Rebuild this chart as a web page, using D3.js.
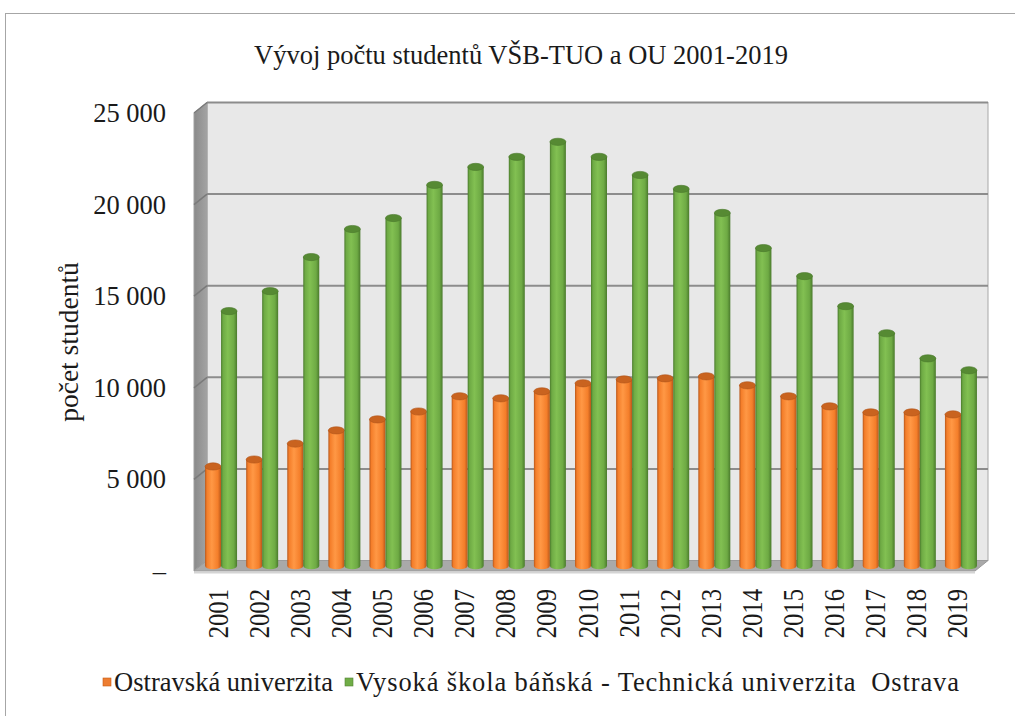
<!DOCTYPE html>
<html>
<head>
<meta charset="utf-8">
<script src="https://cdn.jsdelivr.net/npm/d3@7"></script>
<style>
  body { margin: 0; background: #fff; }
  svg { display: block; font-family: "Liberation Serif", "Times New Roman", serif; }
</style>
</head>
<body>
<svg id="chart" width="1015" height="716"></svg>
<script>
// data
var years = ['2001','2002','2003','2004','2005','2006','2007','2008','2009','2010',
             '2011','2012','2013','2014','2015','2016','2017','2018','2019']
var ou = [5420, 5800, 6670, 7390, 7990, 8420, 9250, 9140, 9520, 9960,
          10170, 10230, 10340, 9850, 9250, 8700, 8370, 8370, 8260]
var vsb = [13900, 14990, 16850, 18380, 18980, 20790, 21770, 22320, 23140, 22320,
           21330, 20570, 19260, 17340, 15810, 14170, 12690, 11320, 10670]
var yTicks = [0, 5000, 10000, 15000, 20000, 25000]
var seriesNames = ['Ostravská univerzita', 'Vysoká škola báňská - Technická univerzita  Ostrava']

var svg = d3.select('#chart')
var defs = svg.append('defs')

// 3d depth offset (front plane -> back wall)
var dx = 13, dy = -10.5

var x = d3.scaleBand().domain(years).range([194, 975])
var y = d3.scaleLinear().domain([0, 25000]).range([571, 113])

var fmt = function (v) { return v === 0 ? '–' : d3.format(',')(v).replace(',', ' ') }

// outer frame
svg.append('rect').attr('x', 5.5).attr('y', 13.5).attr('width', 1030).attr('height', 730)
  .attr('fill', '#fff').attr('stroke', '#a6a6a6')

// title
svg.append('text').attr('x', 521).attr('y', 64).attr('text-anchor', 'middle')
  .attr('font-size', 26.5).attr('fill', '#1a1a1a')
  .text('Vývoj počtu studentů VŠB-TUO a OU 2001-2019')

// gradients
function cylGrad (id, edge, mid, light) {
  var g = defs.append('linearGradient').attr('id', id).attr('x1', 0).attr('x2', 1).attr('y1', 0).attr('y2', 0)
  g.append('stop').attr('offset', '0%').attr('stop-color', edge)
  g.append('stop').attr('offset', '12%').attr('stop-color', mid)
  g.append('stop').attr('offset', '42%').attr('stop-color', light)
  g.append('stop').attr('offset', '80%').attr('stop-color', mid)
  g.append('stop').attr('offset', '100%').attr('stop-color', edge)
}
cylGrad('gOrange', '#b8571a', '#f47e2a', '#ff9845')
cylGrad('gGreen', '#4a7a2c', '#6eaa44', '#82c052')

var side = defs.append('linearGradient').attr('id', 'gSide').attr('x1', 0).attr('x2', 1)
side.append('stop').attr('offset', '0%').attr('stop-color', '#8a8a8a')
side.append('stop').attr('offset', '100%').attr('stop-color', '#a3a3a3')

var x0 = x.range()[0], x1 = x.range()[1]
var yb = y(0), yt = y(25000)

// back wall
svg.append('rect').attr('x', x0 + dx).attr('y', yt + dy).attr('width', x1 - x0).attr('height', yb - yt)
  .attr('fill', '#e8e8e8').attr('stroke', '#a8a8a8').attr('stroke-width', 1)

// side wall
svg.append('path')
  .attr('d', 'M' + x0 + ',' + yt + 'L' + (x0 + dx) + ',' + (yt + dy) + 'L' + (x0 + dx) + ',' + (yb + dy) + 'L' + x0 + ',' + yb + 'Z')
  .attr('fill', 'url(#gSide)').attr('stroke', '#a0a0a0').attr('stroke-width', 1)

// gridlines on back and side walls
var grid = svg.append('g')
grid.selectAll('line.back').data(yTicks.slice(1)).join('line').attr('class', 'back')
  .attr('x1', x0 + dx).attr('x2', x1 + dx)
  .attr('y1', function (d) { return y(d) + dy }).attr('y2', function (d) { return y(d) + dy })
  .attr('stroke', '#8c8c8c').attr('stroke-width', 2)
grid.selectAll('line.side').data(yTicks.slice(1)).join('line').attr('class', 'side')
  .attr('x1', x0).attr('x2', x0 + dx)
  .attr('y1', function (d) { return y(d) }).attr('y2', function (d) { return y(d) + dy })
  .attr('stroke', '#7a7a7a').attr('stroke-width', 1.5)

// floor
svg.append('path')
  .attr('d', 'M' + x0 + ',' + yb + 'L' + (x0 + dx) + ',' + (yb + dy) + 'L' + (x1 + dx) + ',' + (yb + dy) + 'L' + x1 + ',' + yb + 'Z')
  .attr('fill', '#a9a9a9').attr('stroke', '#9a9a9a').attr('stroke-width', 1)
svg.append('line').attr('x1', x0).attr('x2', x1).attr('y1', yb + 1.5).attr('y2', yb + 1.5)
  .attr('stroke', '#d4d4d4').attr('stroke-width', 2)

// cylinders
var barW = 16, rx = barW / 2, ry = 3.6
function drawSeries (vals, idx, fill, top, edge) {
  var g = svg.append('g')
  years.forEach(function (yr, i) {
    var cx = x(yr) + x.bandwidth() / 2 + dx / 2 + (idx === 0 ? -rx : rx)
    var base = y(0) + dy / 2
    var ty = y(vals[i]) + dy / 2
    g.append('path')
      .attr('d', 'M' + (cx - rx) + ',' + ty + 'L' + (cx - rx) + ',' + base +
        'A' + rx + ',' + ry + ' 0 0 0 ' + (cx + rx) + ',' + base + 'L' + (cx + rx) + ',' + ty + 'Z')
      .attr('fill', fill)
    g.append('ellipse').attr('cx', cx).attr('cy', ty).attr('rx', rx).attr('ry', ry)
      .attr('fill', top).attr('stroke', edge).attr('stroke-width', 0.6)
  })
}
drawSeries(ou, 0, 'url(#gOrange)', '#c9631f', '#b0541a')
drawSeries(vsb, 1, 'url(#gGreen)', '#568a33', '#4a782c')

// y tick labels
svg.append('g').selectAll('text').data(yTicks).join('text')
  .attr('x', 166).attr('y', function (d) { return y(d) + 9 })
  .attr('text-anchor', 'end').attr('font-size', 26.5).attr('fill', '#1a1a1a')
  .text(fmt)

// y axis title
svg.append('text').attr('transform', 'translate(78,342) rotate(-90)')
  .attr('text-anchor', 'middle').attr('font-size', 27.5).attr('fill', '#1a1a1a')
  .text('počet studentů')

// x labels (glyphs are tall but tightly set in the original)
svg.append('g').selectAll('text').data(years).join('text')
  .attr('transform', function (d) { return 'translate(' + (x(d) + x.bandwidth() / 2 + 13) + ',589) rotate(-90) scale(0.85,1)' })
  .attr('text-anchor', 'end').attr('font-size', 29).attr('fill', '#1a1a1a')
  .text(function (d) { return d })

// legend
var leg = svg.append('g')
var legX = [103, 345]
var legLen = [219, 603]
var legFill = ['#ed7d31', '#70ad47']
var legEdge = ['#c55a11', '#548235']
seriesNames.forEach(function (n, i) {
  leg.append('rect').attr('x', legX[i]).attr('y', 678).attr('width', 8).attr('height', 8)
    .attr('fill', legFill[i]).attr('stroke', legEdge[i]).attr('stroke-width', 0.6)
  leg.append('text').attr('x', legX[i] + 11).attr('y', 691).attr('font-size', 26.5).attr('fill', '#1a1a1a')
    .attr('xml:space', 'preserve').style('white-space', 'pre')
    .attr('textLength', legLen[i]).attr('lengthAdjust', 'spacing')
    .text(n)
})
</script>
</body>
</html>
